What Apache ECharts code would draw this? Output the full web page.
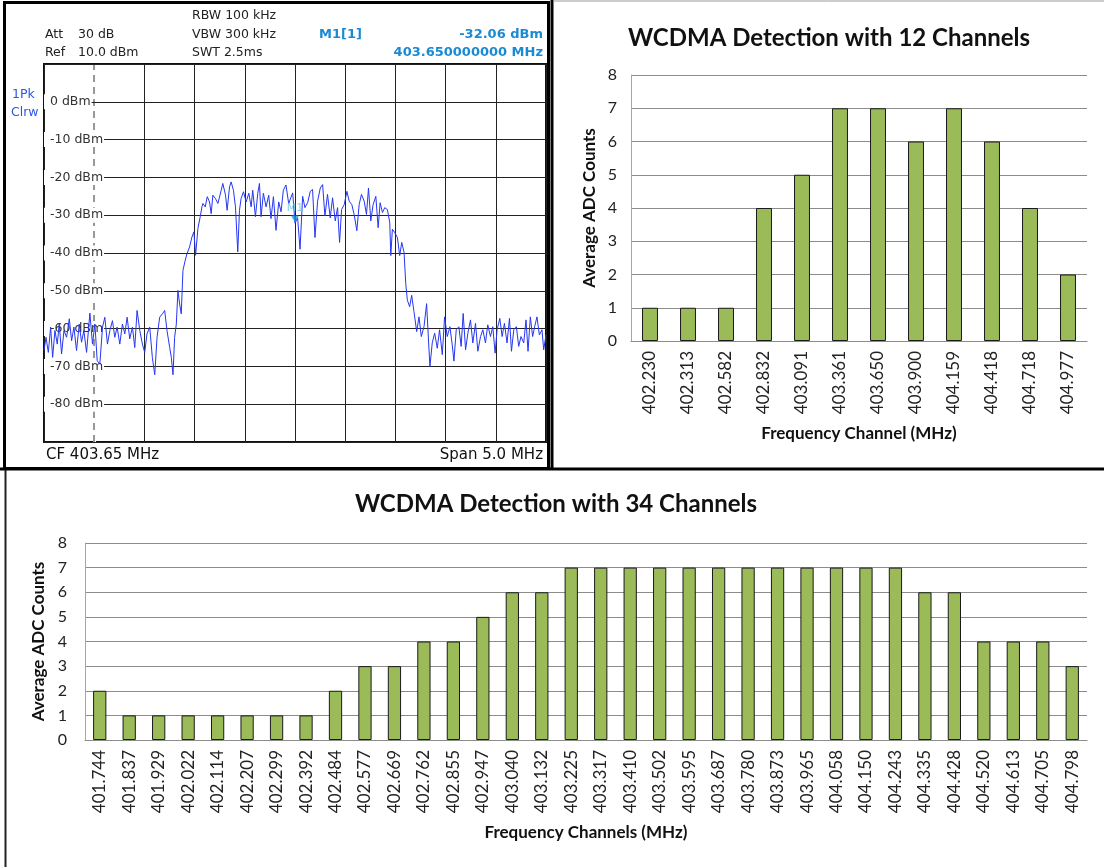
<!DOCTYPE html>
<html lang="en">
<head>
  <meta charset="UTF-8">
  <title>WCDMA Detection</title>
  <style>
    html, body { margin: 0; padding: 0; background: #fff; }
    #root { width: 1104px; height: 867px; }
  </style>
</head>
<body>
  <div id="root"></div>
</body>
<script src="https://cdn.jsdelivr.net/npm/echarts@6/dist/echarts.min.js"></script>
<script>
  // spectrum analyzer trace (MHz, dBm)
  const centerFreq = 403.65
  const traceFreq = [
    401.150, 401.170, 401.193, 401.216, 401.236, 401.259, 401.282, 401.302, 401.325, 401.349,
    401.375, 401.402, 401.425, 401.448, 401.474, 401.501, 401.524, 401.547, 401.574, 401.607,
    401.633, 401.657, 401.680, 401.706, 401.733, 401.756, 401.782, 401.806, 401.832, 401.855,
    401.878, 401.905, 401.931, 401.955, 401.978, 402.004, 402.031, 402.054, 402.077, 402.104,
    402.130, 402.153, 402.176, 402.203, 402.229, 402.253, 402.276, 402.302, 402.329, 402.352,
    402.375, 402.402, 402.418, 402.435, 402.451, 402.468, 402.484, 402.501, 402.517, 402.534,
    402.557, 402.574, 402.600, 402.623, 402.643, 402.660, 402.683, 402.706, 402.723, 402.733,
    402.756, 402.776, 402.799, 402.815, 402.832, 402.858, 402.882, 402.915, 402.931, 402.958,
    402.974, 402.998, 403.014, 403.037, 403.057, 403.080, 403.097, 403.113, 403.137, 403.163,
    403.190, 403.213, 403.229, 403.256, 403.279, 403.296, 403.312, 403.335, 403.362, 403.388,
    403.411, 403.435, 403.461, 403.488, 403.511, 403.534, 403.560, 403.587, 403.627, 403.650,
    403.676, 403.700, 403.726, 403.749, 403.776, 403.802, 403.825, 403.849, 403.875, 403.902,
    403.925, 403.948, 403.974, 404.001, 404.024, 404.051, 404.074, 404.094, 404.114, 404.140,
    404.167, 404.190, 404.216, 404.239, 404.266, 404.289, 404.312, 404.339, 404.362, 404.382,
    404.405, 404.428, 404.455, 404.478, 404.498, 404.521, 404.544, 404.570, 404.594, 404.604,
    404.620, 404.643, 404.670, 404.693, 404.713, 404.736, 404.753, 404.769, 404.792, 404.812,
    404.835, 404.862, 404.885, 404.908, 404.935, 404.961, 404.981, 404.994, 405.017, 405.041,
    405.067, 405.090, 405.117, 405.140, 405.166, 405.193, 405.216, 405.233, 405.256, 405.282,
    405.305, 405.325, 405.349, 405.372, 405.398, 405.421, 405.448, 405.471, 405.498, 405.521,
    405.547, 405.570, 405.597, 405.620, 405.643, 405.663, 405.690, 405.713, 405.736, 405.762,
    405.786, 405.806, 405.829, 405.855, 405.878, 405.901, 405.928, 405.951, 405.971, 405.994,
    406.017, 406.037, 406.060, 406.084, 406.110, 406.127, 406.150
  ]
  const traceLevel = [
    -65.8, -62.3, -66.3, -59.6, -67.6, -60.5, -64.1, -58.8, -66.7, -60.5,
    -62.3, -57.4, -63.2, -59.6, -65.8, -58.8, -63.6, -60.5, -66.3, -55.9,
    -64.1, -58.8, -68.5, -69.4, -59.6, -57.0, -64.1, -60.5, -57.9, -62.3,
    -59.6, -64.1, -58.8, -61.4, -57.0, -62.7, -59.6, -65.0, -55.2, -60.5,
    -64.1, -66.3, -61.4, -59.6, -67.6, -72.2, -62.3, -57.0, -56.1, -55.2,
    -60.5, -65.0, -67.6, -72.2, -62.3, -58.8, -49.9, -53.5, -56.1, -44.6,
    -41.9, -40.2, -38.4, -35.8, -34.4, -40.6, -33.5, -30.4, -27.8, -26.9,
    -27.8, -25.1, -26.5, -29.6, -24.7, -25.6, -26.9, -23.4, -21.6, -24.7,
    -28.7, -22.5, -21.2, -23.4, -27.8, -39.7, -28.7, -25.6, -23.8, -26.5,
    -24.2, -27.8, -23.4, -30.4, -24.2, -21.6, -30.4, -24.2, -27.8, -24.7,
    -30.9, -25.1, -34.0, -26.5, -29.1, -23.4, -22.0, -26.9, -24.1, -32.1,
    -30.7, -39.0, -25.0, -28.0, -26.7, -23.7, -23.2, -35.9, -26.3, -22.8,
    -21.9, -30.2, -24.5, -30.7, -25.4, -31.5, -28.0, -37.2, -28.5, -27.2,
    -23.7, -26.3, -27.2, -29.8, -34.1, -27.2, -24.5, -26.3, -29.8, -22.8,
    -31.5, -27.2, -25.0, -33.3, -26.7, -29.3, -28.0, -28.5, -32.0, -40.7,
    -33.7, -34.6, -35.9, -40.7, -37.2, -39.8, -48.1, -52.5, -54.2, -51.2,
    -55.5, -60.8, -56.9, -62.1, -59.5, -53.4, -63.8, -70.0, -63.8, -61.2,
    -65.2, -60.3, -66.9, -56.9, -62.1, -59.5, -64.3, -68.6, -60.3, -59.5,
    -64.7, -56.0, -65.6, -61.2, -57.7, -63.8, -58.6, -66.0, -62.1, -60.3,
    -63.8, -59.0, -62.1, -59.5, -66.5, -60.3, -57.3, -62.1, -58.6, -63.8,
    -57.3, -66.0, -60.3, -59.5, -64.7, -62.1, -63.8, -57.7, -66.0, -56.9,
    -62.1, -59.5, -56.9, -61.7, -60.3, -65.6, -61.7
  ]
  const markerFreq = 403.65
  const markerLevel = -32.06

  // 12 channel detection
  const channels12 = ['402.230', '402.313', '402.582', '402.832', '403.091', '403.361',
    '403.650', '403.900', '404.159', '404.418', '404.718', '404.977']
  const counts12 = [1, 1, 1, 4, 5, 7, 7, 6, 7, 6, 4, 2]

  // 34 channel detection
  const channels34 = ['401.744', '401.837', '401.929', '402.022', '402.114', '402.207',
    '402.299', '402.392', '402.484', '402.577', '402.669', '402.762', '402.855', '402.947',
    '403.040', '403.132', '403.225', '403.317', '403.410', '403.502', '403.595', '403.687',
    '403.780', '403.873', '403.965', '404.058', '404.150', '404.243', '404.335', '404.428',
    '404.520', '404.613', '404.705', '404.798']
  const counts34 = [2, 1, 1, 1, 1, 1, 1, 1, 2, 3, 3, 4, 4, 5, 6, 6, 7, 7, 7, 7, 7, 7, 7, 7,
    7, 7, 7, 7, 6, 6, 4, 4, 4, 3]

  const countTicks = [0, 1, 2, 3, 4, 5, 6, 7, 8]

  const specFont = 'DejaVu Sans'
  const xlFont = 'Lato'
  const blue = '#1a8ad4'

  function txt(x, y, text, opt) {
    opt = opt || {}
    return {
      type: 'text', x: x, y: y, z: 10,
      style: {
        text: text,
        fill: opt.color || '#222',
        fontSize: opt.size || 12.5,
        fontFamily: opt.family || specFont,
        fontWeight: opt.weight || 'normal',
        align: opt.align || 'left', textAlign: opt.align || 'left',
        verticalAlign: 'middle', textVerticalAlign: 'middle'
      }
    }
  }

  function barX(gridIndex, cats, gap) {
    return {
      type: 'category', gridIndex: gridIndex, data: cats,
      axisLine: { lineStyle: { color: '#8c8c8c' } },
      axisTick: { show: false },
      axisLabel: { rotate: 90, interval: 0, fontSize: 17, fontFamily: xlFont, color: '#222', margin: 10 },
      name: gap.name, nameLocation: 'middle', nameGap: gap.x,
      nameTextStyle: { fontSize: 17, fontWeight: 'bold', fontFamily: xlFont, color: '#111' }
    }
  }

  function barY(gridIndex, gap) {
    return {
      type: 'value', gridIndex: gridIndex,
      min: countTicks[0], max: countTicks[countTicks.length - 1], interval: 1,
      axisLine: { show: true, lineStyle: { color: '#a6a6a6' } },
      axisTick: { show: false },
      axisLabel: { fontSize: 16, fontFamily: xlFont, color: '#222', margin: gap.label },
      splitLine: { lineStyle: { color: '#8c8c8c' } },
      name: 'Average ADC Counts', nameLocation: 'middle', nameGap: gap.y,
      nameTextStyle: { fontSize: 17, fontWeight: 'bold', fontFamily: xlFont, color: '#111' }
    }
  }

  let myChart = echarts.init(document.getElementById('root'))

  let option = {
    animation: false,
    backgroundColor: '#fff',
    grid: [
      { left: 44, top: 64, width: 502, height: 378, show: true, borderColor: '#111', borderWidth: 2 },
      { left: 631, top: 75, width: 456, height: 266 },
      { left: 85, top: 543, width: 1002, height: 197 }
    ],
    xAxis: [
      {
        type: 'value', gridIndex: 0, min: -2.5, max: 2.5, interval: 0.5, z: 0,
        axisLine: { show: false }, axisTick: { show: false }, axisLabel: { show: false },
        splitLine: { lineStyle: { color: '#222', width: 1 } }
      },
      barX(1, channels12, { name: 'Frequency Channel (MHz)', x: 84 }),
      barX(2, channels34, { name: 'Frequency Channels (MHz)', x: 84 })
    ],
    yAxis: [
      {
        type: 'value', gridIndex: 0, min: -90, max: 10, interval: 10, z: 1,
        axisLine: { show: false }, axisTick: { show: false },
        axisLabel: {
          inside: true, margin: 0, showMinLabel: false, showMaxLabel: false,
          formatter: '{value} dBm', fontSize: 12.5, fontFamily: specFont, color: '#333',
          backgroundColor: '#fff', padding: [1, 1, 1, 6]
        },
        splitLine: { lineStyle: { color: '#222', width: 1 } }
      },
      barY(1, { label: 14, y: 33 }),
      barY(2, { label: 18, y: 33 })
    ],
    series: [
      {
        // dashed reference line in the analyzer grid
        type: 'line', xAxisIndex: 0, yAxisIndex: 0, data: [], z: 0.5,
        markLine: {
          silent: true, z: 0.5, symbol: ['none', 'none'], label: { show: false },
          data: [
            { xAxis: -2, lineStyle: { color: '#fff', width: 3, type: 'solid' } },
            { xAxis: -2, lineStyle: { color: '#777', width: 1.5, type: [7, 5] } }
          ]
        }
      },
      {
        type: 'line', xAxisIndex: 0, yAxisIndex: 0, z: 2,
        data: traceFreq.map((f, i) => [f - centerFreq, traceLevel[i]]),
        showSymbol: false, lineStyle: { color: '#2536f2', width: 1 }
      },
      {
        type: 'scatter', xAxisIndex: 0, yAxisIndex: 0, z: 3,
        data: [[markerFreq - centerFreq, markerLevel]],
        symbol: 'triangle', symbolRotate: 180, symbolSize: [8, 7], symbolOffset: [0, -4],
        itemStyle: { color: '#1a9ad6' },
        label: { show: true, formatter: 'M1', position: 'top', distance: 2, color: '#66c8ee', fontSize: 11, fontFamily: specFont }
      },
      {
        type: 'bar', xAxisIndex: 1, yAxisIndex: 1, data: counts12, barWidth: '42%',
        itemStyle: { color: '#9bbb59', borderColor: '#1a1a1a', borderWidth: 1 }
      },
      {
        type: 'bar', xAxisIndex: 2, yAxisIndex: 2, data: counts34, barWidth: '45%',
        itemStyle: { color: '#9bbb59', borderColor: '#1a1a1a', borderWidth: 1 }
      }
    ],
    graphic: [
      // panel frames
      { type: 'rect', shape: { x: 4.5, y: 2.5, width: 544, height: 466 }, style: { fill: 'none', stroke: '#000', lineWidth: 3 } },
      { type: 'line', shape: { x1: 552, y1: 0, x2: 552, y2: 470 }, style: { stroke: '#000', lineWidth: 3 } },
      { type: 'line', shape: { x1: 0, y1: 469, x2: 1104, y2: 469 }, style: { stroke: '#000', lineWidth: 3 } },
      { type: 'line', shape: { x1: 5.5, y1: 470, x2: 5.5, y2: 867 }, style: { stroke: '#222', lineWidth: 2 } },
      { type: 'line', shape: { x1: 553, y1: 1, x2: 1104, y2: 1 }, style: { stroke: '#999', lineWidth: 1 } },
      // analyzer header
      txt(192, 16, 'RBW 100 kHz'),
      txt(45, 35, 'Att'), txt(78, 35, '30 dB'),
      txt(192, 35, 'VBW 300 kHz'),
      txt(319, 35, 'M1[1]', { color: blue, weight: 'bold', size: 13 }),
      txt(543, 35, '-32.06 dBm', { color: blue, weight: 'bold', size: 13, align: 'right' }),
      txt(45, 53, 'Ref'), txt(78, 53, '10.0 dBm'),
      txt(192, 53, 'SWT 2.5ms'),
      txt(543, 53, '403.650000000 MHz', { color: blue, weight: 'bold', size: 13, align: 'right' }),
      txt(12, 95, '1Pk', { color: '#2a55e8' }),
      txt(11, 113, 'Clrw', { color: '#2a55e8' }),
      txt(46, 455, 'CF 403.65 MHz', { size: 15, color: '#111' }),
      txt(543, 455, 'Span 5.0 MHz', { size: 15, color: '#111', align: 'right' }),
      // chart titles
      txt(829, 38, 'WCDMA Detection with 12 Channels', { size: 24, weight: 'bold', family: xlFont, color: '#111', align: 'center' }),
      txt(556, 504, 'WCDMA Detection with 34 Channels', { size: 24, weight: 'bold', family: xlFont, color: '#111', align: 'center' })
    ]
  }

  myChart.setOption(option)
</script>
</html>
